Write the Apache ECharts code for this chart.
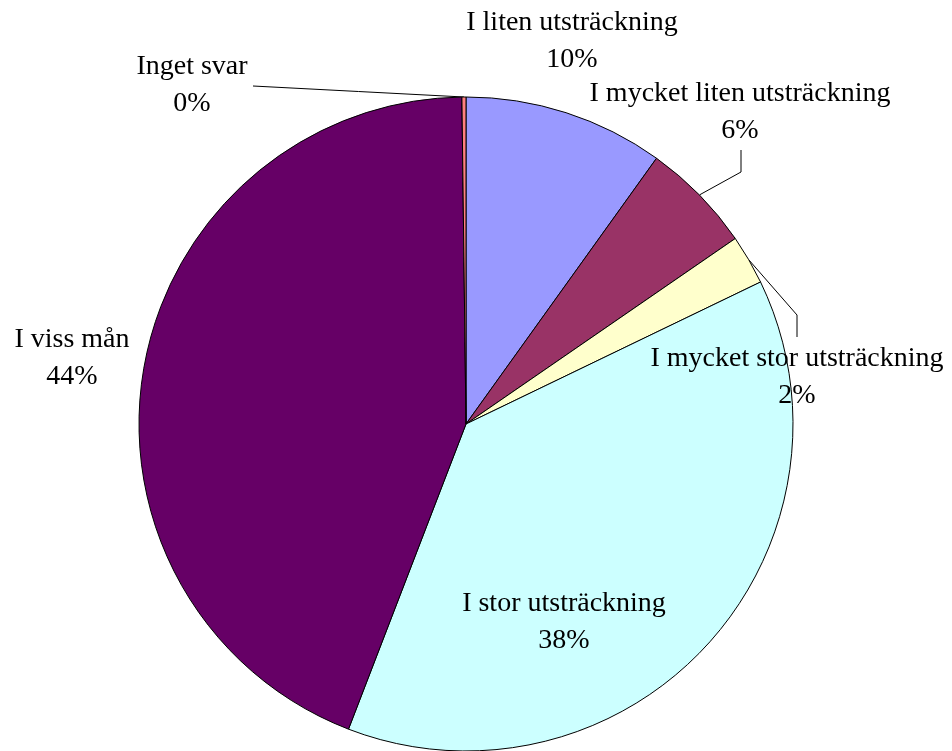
<!DOCTYPE html>
<html>
<head>
<meta charset="utf-8">
<title>Svarsfördelning</title>
<script src="https://cdn.jsdelivr.net/npm/echarts@6/dist/echarts.min.js"></script>
<style>
  html, body { margin: 0; padding: 0; background: #ffffff; }
  #chart { width: 952px; height: 751px; }
</style>
</head>
<body>
<div id="chart"></div>
<script>
// Answer categories, in clockwise order starting at twelve o'clock
const categories = [
  'I liten utsträckning',
  'I mycket liten utsträckning',
  'I mycket stor utsträckning',
  'I stor utsträckning',
  'I viss mån',
  'Inget svar'
];
// Share of respondents (%)
const shares = [9.9, 5.5, 2.45, 38.0, 43.95, 0.2];
const sliceColors = ['#9999FF', '#993366', '#FFFFCC', '#CCFFFF', '#660066', '#FF8080'];

// Where each label block sits (centre of the text), and for the small
// slices the bend and end of the leader line.
const labelSpots = {
  'I liten utsträckning':        { x: 572, y: 41 },
  'I mycket liten utsträckning': { x: 740, y: 112, bend: [741, 172], end: [741, 150] },
  'I mycket stor utsträckning':  { x: 797, y: 377, bend: [797, 315], end: [797, 337] },
  'I stor utsträckning':         { x: 564, y: 622 },
  'I viss mån':                  { x: 72,  y: 358 },
  'Inget svar':                  { x: 192, y: 85,  end: [253, 86] }
};

const FONT = '"Liberation Serif", "Times New Roman", serif';

const chart = echarts.init(document.getElementById('chart'), null, { renderer: 'canvas' });

const pieData = categories.map((name, i) => ({
  name: name,
  value: shares[i],
  itemStyle: { color: sliceColors[i] },
  labelLine: { show: !!labelSpots[name].end }
}));

chart.setOption({
  backgroundColor: '#ffffff',
  animation: false,
  series: [{
    type: 'pie',
    center: [466, 424],
    radius: 327,
    startAngle: 90,
    clockwise: true,
    avoidLabelOverlap: false,
    minShowLabelAngle: 0,
    data: pieData,
    itemStyle: { borderColor: '#000000', borderWidth: 1 },
    label: {
      show: true,
      position: 'outside',
      fontFamily: FONT,
      fontSize: 28,
      lineHeight: 37,
      color: '#000000',
      align: 'center',
      formatter: p => p.name + '\n' + Math.round(p.percent) + '%'
    },
    labelLine: {
      show: true,
      length: 20,
      length2: 20,
      lineStyle: { color: '#000000', width: 1 }
    },
    emphasis: { disabled: true },
    labelLayout: function (params) {
      const spot = labelSpots[categories[params.dataIndex]];
      const out = { x: spot.x, y: spot.y, align: 'center', verticalAlign: 'middle' };
      if (spot.end && params.labelLinePoints) {
        const start = params.labelLinePoints[0];
        const bend = spot.bend || [(start[0] + spot.end[0]) / 2, (start[1] + spot.end[1]) / 2];
        out.labelLinePoints = [start, bend, spot.end];
      }
      return out;
    }
  }]
});
</script>
</body>
</html>
